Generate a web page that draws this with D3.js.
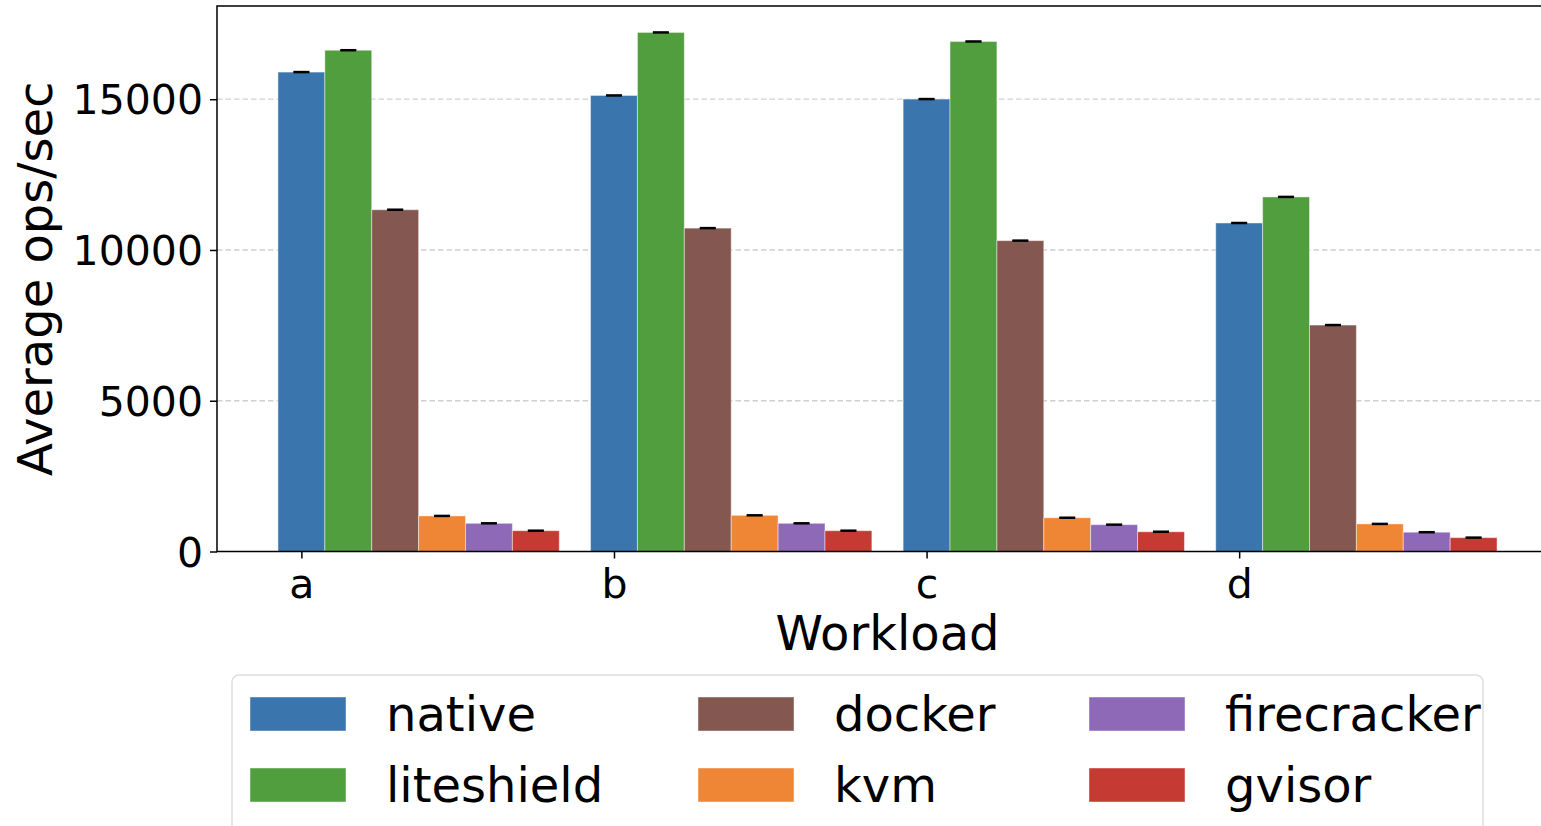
<!DOCTYPE html>
<html>
<head>
<meta charset="utf-8">
<script src="https://cdn.jsdelivr.net/npm/d3@7"></script>
<style>
    body { margin: 0; background: #fff; }
    #chart { width: 1541px; height: 826px; overflow: hidden; }
    text { font-family: "DejaVu Sans", sans-serif; fill: #000; }
</style>
</head>
<body>
<div id="chart"></div>
<script>

// workloads and systems
const workloads = ["a", "b", "c", "d"];
const systems = ["native", "liteshield", "docker", "kvm", "firecracker", "gvisor"];

// average ops/sec, one array per system (a, b, c, d)
const native = [15900, 15125, 15005, 10895];
const liteshield = [16625, 17215, 16915, 11760];
const docker = [11335, 10725, 10310, 7510];
const kvm = [1180, 1200, 1120, 915];
const firecracker = [935, 935, 890, 640];
const gvisor = [690, 690, 655, 460];

// small std errors (caps only)
const errs = [15, 15, 15, 15];

const yTicks = [0, 5000, 10000, 15000];

const colors = ["#3a75ae", "#519e3e", "#845850", "#ef8636", "#8d69b8", "#c53a32"];

const series = [native, liteshield, docker, kvm, firecracker, gvisor];

var width = 1541;
var height = 826;

var svg = d3.select("#chart")
    .append("svg")
    .attr("width", width)
    .attr("height", height);

var barW = 0.15;

// matplotlib-like auto limits with 5% margin
var xMin = -barW / 2;
var xMax = (workloads.length - 1) + (systems.length - 1) * barW + barW / 2;
var xPad = (xMax - xMin) * 0.05;
var xScale = d3.scaleLinear()
    .domain([xMin - xPad, xMax + xPad])
    .range([217, 1558]);

var yMax = d3.max(series, s => d3.max(s)) + 15;
var yScale = d3.scaleLinear()
    .domain([0, yMax * 1.05])
    .range([551.5, 6]);

/* GRID */
svg.append("g")
    .selectAll("line")
    .data(yTicks.slice(1))
    .join("line")
    .attr("x1", xScale.range()[0])
    .attr("x2", xScale.range()[1])
    .attr("y1", d => yScale(d))
    .attr("y2", d => yScale(d))
    .attr("stroke", "#d0d0d0")
    .attr("stroke-width", 1.3)
    .attr("stroke-dasharray", "5.5,3");

/* BARS */
var groups = svg.append("g")
    .selectAll("g")
    .data(series)
    .join("g")
    .attr("fill", (d, j) => colors[j]);

groups.selectAll("rect")
    .data((s, j) => s.map((v, i) => ({ v: v, i: i, j: j })))
    .join("rect")
    .attr("x", d => xScale(d.i + d.j * barW - barW / 2))
    .attr("width", d => xScale(barW) - xScale(0))
    .attr("y", d => yScale(d.v))
    .attr("height", d => yScale(0) - yScale(d.v))
    .attr("stroke", "#ffffff")
    .attr("stroke-opacity", 0.45)
    .attr("stroke-width", 1);

// error bar caps
groups.selectAll("g.err")
    .data((s, j) => s.map((v, i) => ({ v: v, i: i, j: j })))
    .join("g")
    .attr("class", "err")
    .each(function (d) {
        var cx = xScale(d.i + d.j * barW);
        var g = d3.select(this);
        var e = errs[d.i];
        g.append("line")
            .attr("x1", cx).attr("x2", cx)
            .attr("y1", yScale(d.v - e)).attr("y2", yScale(d.v + e))
            .attr("stroke", "#000").attr("stroke-width", 1.5);
        [d.v - e, d.v + e].forEach(function (yy) {
            g.append("line")
                .attr("x1", cx - 8).attr("x2", cx + 8)
                .attr("y1", yScale(yy)).attr("y2", yScale(yy))
                .attr("stroke", "#000").attr("stroke-width", 1.6);
        });
    });

/* AXES */
var yAxis = svg.append("g")
    .attr("transform", `translate(${xScale.range()[0]},0)`)
    .call(d3.axisLeft(yScale).tickValues(yTicks).tickFormat(d3.format("d")).tickSize(7).tickPadding(7));
yAxis.selectAll("text").style("font-size", "41px").attr("dy", "0.36em");

var xAxis = svg.append("g")
    .attr("transform", `translate(0,${yScale(0)})`)
    .call(d3.axisBottom(xScale).tickValues(d3.range(workloads.length)).tickFormat(i => workloads[i]).tickSize(7).tickPadding(10));
xAxis.selectAll("text").style("font-size", "41px");

svg.selectAll(".domain").remove();
svg.selectAll(".tick line").attr("stroke", "#000").attr("stroke-width", 1.5);

// spines
var r = xScale.range(), yr = yScale.range();
svg.append("rect")
    .attr("x", r[0]).attr("y", yr[1])
    .attr("width", r[1] - r[0]).attr("height", yr[0] - yr[1])
    .attr("fill", "none")
    .attr("stroke", "#000")
    .attr("stroke-width", 1.5);

/* LABELS */
svg.append("text")
    .attr("transform", `translate(52,${(yr[0] + yr[1]) / 2}) rotate(-90)`)
    .attr("text-anchor", "middle")
    .style("font-size", "48px")
    .text("Average ops/sec");

svg.append("text")
    .attr("x", (r[0] + r[1]) / 2)
    .attr("y", 650)
    .attr("text-anchor", "middle")
    .style("font-size", "48px")
    .text("Workload");

/* LEGEND */
var legend = svg.append("g");
legend.append("rect")
    .attr("x", 232).attr("y", 675)
    .attr("width", 1251).attr("height", 200)
    .attr("rx", 7)
    .attr("fill", "#fff")
    .attr("stroke", "#dedede")
    .attr("stroke-width", 1.5);

var colX = [250, 698, 1089];
var rowY = [697, 768];

var items = legend.selectAll("g.item")
    .data(systems)
    .join("g")
    .attr("class", "item")
    .attr("transform", (d, k) => `translate(${colX[Math.floor(k / 2)]},${rowY[k % 2]})`);

items.append("rect")
    .attr("width", 96).attr("height", 34)
    .attr("fill", (d, k) => colors[k])
    .attr("stroke", "#fff").attr("stroke-opacity", 0.45);

items.append("text")
    .attr("x", 136)
    .attr("y", 34)
    .style("font-size", "48px")
    .text(d => d);

</script>
</body>
</html>
